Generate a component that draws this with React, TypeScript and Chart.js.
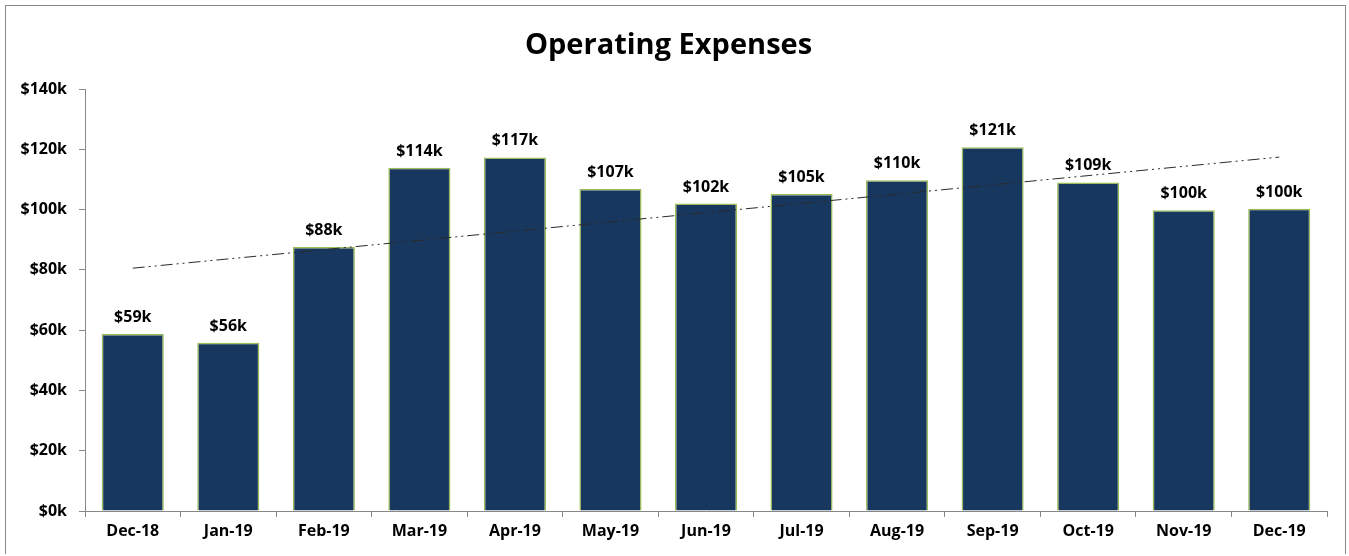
import React, { useEffect, useRef } from "react";
import { Chart, registerables } from "chart.js";

Chart.register(...registerables);

const categories = ["Dec-18", "Jan-19", "Feb-19", "Mar-19", "Apr-19", "May-19", "Jun-19", "Jul-19", "Aug-19", "Sep-19", "Oct-19", "Nov-19", "Dec-19"];
// Operating expenses in $ thousands
const expenses = [58.7, 55.8, 87.6, 113.9, 117.3, 106.8, 102.0, 105.2, 109.7, 120.7, 109.0, 99.8, 100.3];
const yTicks = [0, 20, 40, 60, 80, 100, 120, 140];
const chartTitle = "Operating Expenses";

const FONT = "'Open Sans', Lato, sans-serif";

const dataLabels = {
  id: "dataLabels",
  afterDatasetsDraw(chart: any) {
    const ctx = chart.ctx;
    const meta = chart.getDatasetMeta(0);
    ctx.save();
    ctx.font = `bold 16px ${FONT}`;
    ctx.fillStyle = "#000";
    ctx.textAlign = "center";
    ctx.textBaseline = "alphabetic";
    meta.data.forEach((el: any, i: number) => {
      const v = chart.data.datasets[0].data[i];
      ctx.fillText(`$${Math.round(v)}k`, el.x, el.y - 12);
    });
    ctx.restore();
  },
};

const trendLine = {
  id: "trendLine",
  afterDatasetsDraw(chart: any) {
    const vals: number[] = chart.data.datasets[0].data;
    const n = vals.length;
    const mx = (n - 1) / 2;
    const my = vals.reduce((a, b) => a + b, 0) / n;
    let sxy = 0, sxx = 0;
    vals.forEach((v, i) => { sxy += (i - mx) * (v - my); sxx += (i - mx) * (i - mx); });
    const slope = sxy / sxx;
    const b = my - slope * mx;
    const xs = chart.scales.x, ys = chart.scales.y;
    const ctx = chart.ctx;
    ctx.save();
    ctx.strokeStyle = "#2a2a2a";
    ctx.lineWidth = 1;
    ctx.setLineDash([12, 4, 2, 4, 2, 4]);
    ctx.beginPath();
    ctx.moveTo(xs.getPixelForValue(0), ys.getPixelForValue(b));
    ctx.lineTo(xs.getPixelForValue(n - 1), ys.getPixelForValue(b + slope * (n - 1)));
    ctx.stroke();
    ctx.restore();
  },
};

export default function App() {
  const ref = useRef<HTMLCanvasElement>(null);
  useEffect(() => {
    const chart = new Chart(ref.current!, {
      type: "bar",
      data: {
        labels: categories,
        datasets: [
          {
            data: expenses,
            backgroundColor: "#17375E",
            borderColor: "#9BBB59",
            borderWidth: 1.5,
            categoryPercentage: 1,
            barPercentage: 0.65,
          },
        ],
      },
      options: {
        animation: false,
        responsive: false,
        layout: { padding: { left: 10, right: 22, top: 0, bottom: 10 } },
        plugins: {
          legend: { display: false },
          tooltip: { enabled: false },
          title: {
            display: true,
            text: chartTitle,
            color: "#000",
            font: { family: FONT, size: 29, weight: "bold", lineHeight: 1.2 },
            padding: { top: 28, bottom: 26.2 },
          },
        },
        scales: {
          x: {
            grid: { display: true, offset: true, drawOnChartArea: false, tickLength: 6, color: "#888" },
            border: { display: true, color: "#888", width: 1 },
            ticks: { color: "#000", font: { family: FONT, size: 16, weight: "bold" }, padding: 5, maxRotation: 0 },
            afterFit(scale: any) { scale.height = 35; },
          },
          y: {
            min: 0,
            max: 140,
            afterBuildTicks(scale: any) { scale.ticks = yTicks.map((v) => ({ value: v })); },
            grid: { display: true, drawOnChartArea: false, tickLength: 6, color: "#888" },
            border: { display: true, color: "#888", width: 1 },
            ticks: {
              color: "#000",
              font: { family: FONT, size: 16, weight: "bold" },
              padding: 12,
              callback: (v: any) => `$${v}k`,
            },
            afterFit(scale: any) { scale.width = 75; },
          },
        },
      },
      plugins: [trendLine, dataLabels],
    });
    return () => chart.destroy();
  }, []);
  return (
    <div style={{ position: "absolute", left: 0, top: 0, width: 1349, height: 556, background: "#fff" }}>
      <div style={{ position: "absolute", left: 5, top: 5, width: 1339, height: 548, borderTop: "1px solid #888", borderLeft: "1px solid #888", borderRight: "1px solid #888" }} />
      <canvas ref={ref} width={1349} height={556} style={{ position: "absolute", left: 0, top: 0 }} />
    </div>
  );
}
